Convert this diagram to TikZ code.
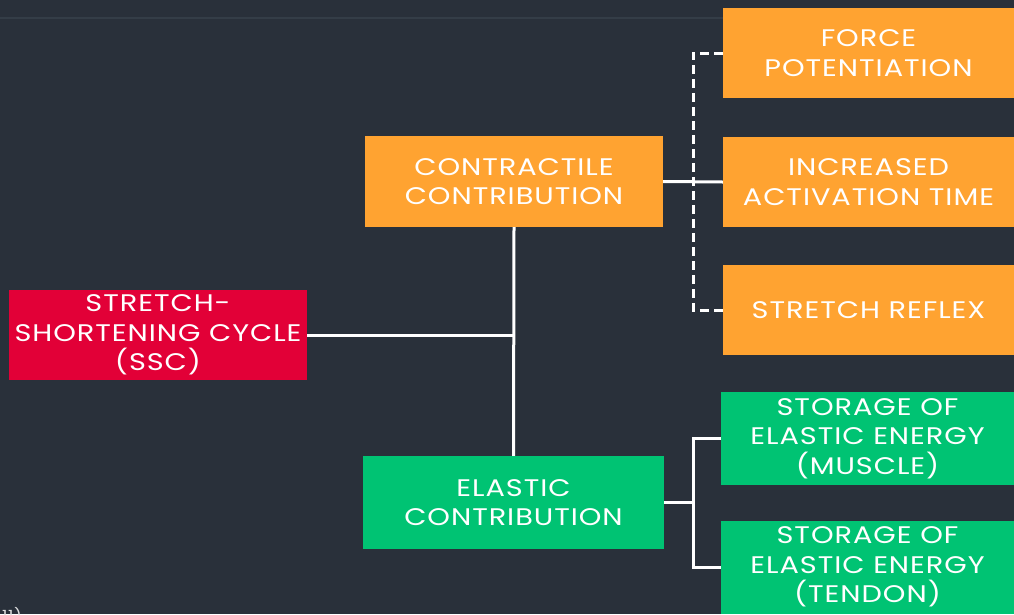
\documentclass[tikz,border=0pt]{standalone}
\usepackage{fontspec}
\setmainfont{Poppins}[FakeStretch=1.2, LetterSpace=4]
\usetikzlibrary{positioning}
\definecolor{bgdark}{HTML}{29303A}
\definecolor{rulegray}{HTML}{343D47}
\definecolor{ssred}{HTML}{E20037}
\definecolor{boxorange}{HTML}{FFA331}
\definecolor{boxgreen}{HTML}{00C373}

\begin{document}
\begin{tikzpicture}[
    x=1pt, y=-1pt,
    box/.style={
      rectangle,
      text=white,
      align=center,
      inner sep=0pt,
      font=\fontsize{24}{29.5}\selectfont
    },
    leftbox/.style={box, minimum width=298pt, minimum height=91pt},
    rightbox/.style={box, fill=boxorange, minimum width=291pt, minimum height=90pt},
    storebox/.style={box, fill=boxgreen, minimum width=293pt, minimum height=93pt},
    line/.style={draw=white, line width=3pt},
    dashline/.style={line, dash pattern=on 9pt off 5pt}
]

    % Canvas
    \useasboundingbox (0,0) rectangle (1014,614);
    \clip (0,0) rectangle (1014,614);
    \fill[bgdark] (0,0) rectangle (1014,614);
    \draw[rulegray, line width=2pt] (0,17.5) -- (1014,17.5);

    % Nodes
    \node [leftbox, fill=ssred, minimum height=90pt] (ssc) at (158,335) {STRETCH-\\SHORTENING CYCLE\\(SSC)};
    \node [leftbox, fill=boxorange] (contr) at (514,181.5) {CONTRACTILE\\CONTRIBUTION};
    \node [leftbox, fill=boxgreen, minimum width=301pt, minimum height=93pt] (elast) at (513.5,502.5) {ELASTIC\\CONTRIBUTION};
    \node [rightbox] (force) at (868.5,53) {FORCE\\POTENTIATION};
    \node [rightbox] (activ) at (868.5,182) {INCREASED\\ACTIVATION TIME};
    \node [rightbox] (reflex) at (868.5,310) {STRETCH REFLEX};
    \node [storebox] (muscle) at (867.5,438.5) {STORAGE OF\\ELASTIC ENERGY\\(MUSCLE)};
    \node [storebox] (tendon) at (867.5,567) {STORAGE OF\\ELASTIC ENERGY\\(TENDON)};
    \node [text=white!85!bgdark, anchor=north west, inner sep=0pt, font=\fontsize{14}{16}\selectfont] (note) at (2,607) {11)};

    % Junctions
    \coordinate (cjoin) at (693,182);
    \coordinate (ejoin) at (693,502.5);

    % Edges
    \path [line] (ssc.east) -- (ssc.east -| contr.south);
    \path [line] (contr.south) -- (elast.north);
    \path [line] (contr.east) -- (activ.west);
    \path [dashline] (force.west) -| (reflex.west -| cjoin) -- (reflex.west);
    \path [line] (elast.east) -- (ejoin);
    \path [line] (muscle.west) -| (ejoin) |- (tendon.west);

\end{tikzpicture}
\end{document}
